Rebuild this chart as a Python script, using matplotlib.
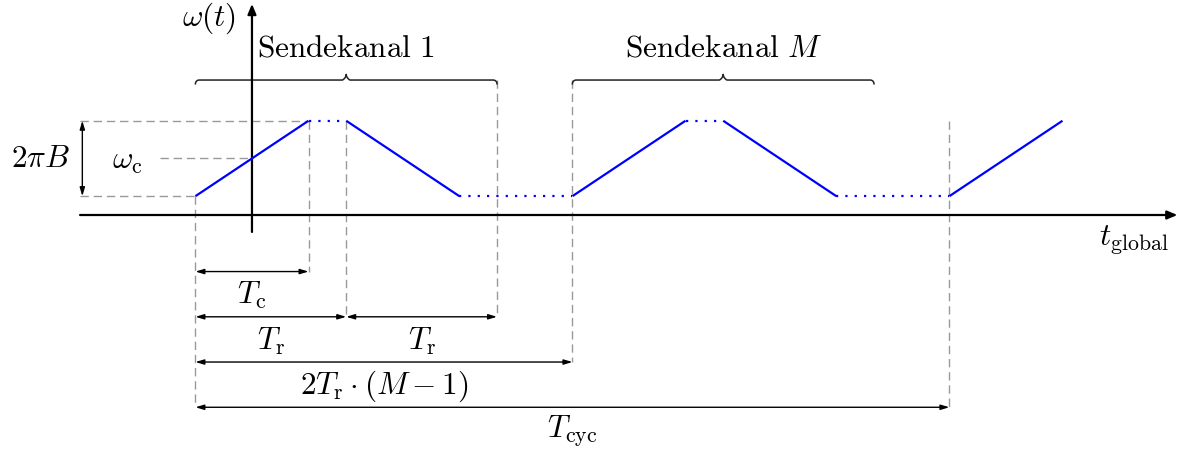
import numpy as np
import matplotlib.pyplot as plt

plt.rcParams['mathtext.fontset'] = 'cm'
plt.rcParams['font.family'] = 'serif'

# chirp timing (one unit = one grid step), times relative to first chirp start
T_START = -1.5
T_C = 3.0
T_R = 4.0
T_PERIOD = 10.0
T_CYC = 20.0
W_LO, W_HI = 0.5, 2.5
W_C = 1.5

# corner points of the frequency ramp sequence; segments alternate solid / dotted
ramp_t = [0, 3, 4, 7, 10, 13, 14, 17, 20, 23]
ramp_w = [W_LO, W_HI, W_HI, W_LO, W_LO, W_HI, W_HI, W_LO, W_LO, W_HI]

# channel braces: (start, end, label)
channels = [(0, 8, r'$\mathrm{Sendekanal\ 1}$'),
            (10, 18, r'$\mathrm{Sendekanal}\ M$')]

# dimension arrows: (start, end, level, label)
dims = [(0, T_C, -1.5, r'$T_{\mathrm{c}}$'),
        (0, T_R, -2.7, r'$T_{\mathrm{r}}$'),
        (T_R, 2 * T_R, -2.7, r'$T_{\mathrm{r}}$'),
        (0, T_PERIOD, -3.9, r'$2T_{\mathrm{r}}\cdot(M-1)$'),
        (0, T_CYC, -5.1, r'$T_{\mathrm{cyc}}$')]

BLUE = '#0000ff'
GREY = '#999999'
FS = 22.5

fig = plt.figure(figsize=(11.85, 4.55), dpi=100)
ax = fig.add_axes([0, 0, 1, 1])
ax.set_xlim(-6.684, 24.75)
ax.set_ylim(-6.366, 5.703)
ax.axis('off')

dash = dict(color=GREY, lw=1.0, ls=(0, (6, 3.5)), zorder=1)

# helper lines
brace_y = 3.58
t = np.array(ramp_t, dtype=float) + T_START
ax.plot([-4.56, t[1]], [W_HI, W_HI], **dash)
ax.plot([-4.56, t[0]], [W_LO, W_LO], **dash)
ax.plot([-2.44, 0], [W_C, W_C], **dash)
ax.plot([t[0], t[0]], [W_LO, dims[4][2]], **dash)
ax.plot([t[1], t[1]], [W_HI, dims[0][2]], **dash)
ax.plot([t[2], t[2]], [W_HI, dims[1][2]], **dash)
ax.plot([T_START + 2 * T_R] * 2, [brace_y, dims[2][2]], **dash)
ax.plot([T_START + T_PERIOD] * 2, [brace_y, dims[3][2]], **dash)
ax.plot([T_START + T_CYC] * 2, [W_HI, dims[4][2]], **dash)

# axes
ax.annotate('', xy=(24.55, 0), xytext=(-4.56, 0),
            arrowprops=dict(arrowstyle='-|>,head_length=0.6,head_width=0.25',
                            color='black', lw=1.6, shrinkA=0, shrinkB=0), zorder=3)
ax.annotate('', xy=(0, 5.6), xytext=(0, -0.45),
            arrowprops=dict(arrowstyle='-|>,head_length=0.6,head_width=0.25',
                            color='black', lw=1.6, shrinkA=0, shrinkB=0), zorder=3)
ax.text(-1.15, 5.22, r'$\omega(t)$', fontsize=FS, ha='center', va='center')
ax.text(23.4, -0.68, r'$t_{\mathrm{global}}$', fontsize=FS, ha='center', va='center')

# frequency ramps
for i in range(len(t) - 1):
    style = '-' if i % 2 == 0 else (0, (1, 3.2))
    ax.plot(t[i:i + 2], ramp_w[i:i + 2], color=BLUE, lw=1.6, ls=style,
            solid_capstyle='butt', zorder=4)

# bandwidth arrow
small = dict(arrowstyle='<|-|>,head_length=0.5,head_width=0.15',
             color='black', lw=1.0, shrinkA=0, shrinkB=0)
ax.annotate('', xy=(-4.5, W_HI), xytext=(-4.5, W_LO), arrowprops=small)
ax.text(-5.62, W_C, r'$2\pi B$', fontsize=FS, ha='center', va='center')
ax.text(-3.3, W_C - 0.05, r'$\omega_{\mathrm{c}}$', fontsize=FS, ha='center', va='center')


def brace(x0, x1, y, r=0.1, h=0.15):
    # curly brace opening downward, tip pointing up
    xm = (x0 + x1) / 2
    a = np.linspace(0, np.pi / 2, 12)
    xs = np.concatenate([x0 + r - r * np.cos(a), [xm - r],
                         xm - r + r * np.sin(a),
                         xm + r - r * np.sin(a[::-1]),
                         [x1 - r], x1 - r + r * np.cos(a[::-1])])
    ys = np.concatenate([y - r + r * np.sin(a), [y],
                         y + r - r * np.cos(a),
                         y + r - r * np.cos(a[::-1]),
                         [y], y - r + r * np.sin(a[::-1])])
    ys = np.where(np.abs(xs - xm) < r * 1.01, ys + (h - r) * (1 - np.abs(xs - xm) / r), ys)
    ax.plot(xs, ys, color='#222222', lw=1.1, zorder=2)


for c0, c1, label in channels:
    brace(T_START + c0, T_START + c1, brace_y)
    ax.text(T_START + (c0 + c1) / 2, 4.43, label, fontsize=FS, ha='center', va='center')

# dimension arrows
for d0, d1, lvl, label in dims:
    ax.annotate('', xy=(T_START + d1, lvl), xytext=(T_START + d0, lvl), arrowprops=small)
    ax.text(T_START + (d0 + d1) / 2, lvl - 0.64, label, fontsize=FS,
            ha='center', va='center')

fig.savefig('out.png', dpi=100)
